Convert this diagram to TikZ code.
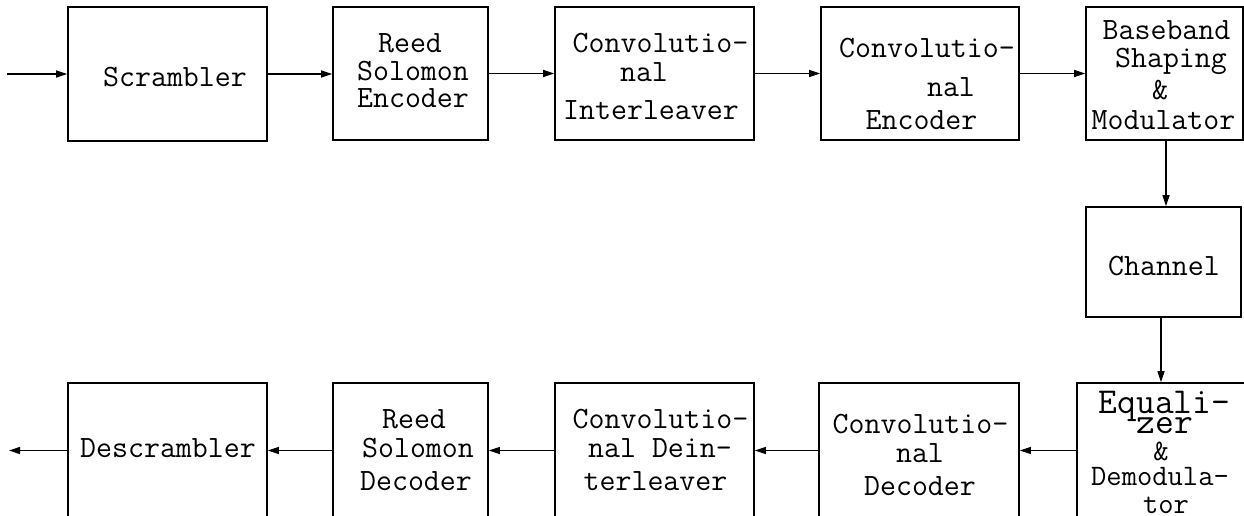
\documentclass[tikz,border=0pt]{standalone}
\usepackage{fontspec}
\usetikzlibrary{arrows.meta}
\begin{document}
\begin{tikzpicture}[x=1pt,y=-1pt,
  box/.style={draw, line width=1.6pt, rectangle, inner sep=0pt},
  txt/.style={font=\ttfamily\fontsize{31}{31}\selectfont, inner sep=0pt, anchor=base},
  bigtxt/.style={txt, font=\ttfamily\fontsize{36.5}{36.5}\selectfont},
  midtxt/.style={txt, font=\ttfamily\fontsize{29.7}{29.7}\selectfont},
  arr/.style={line width=1.3pt, -{Triangle[length=11pt,width=7pt]}}]
\useasboundingbox (0,0) rectangle (1244,516);
\clip (0,0) rectangle (1244,516);
% top row boxes
\node[box, minimum width=199, minimum height=134] (scr) at (167.5,74) {};
\node[box, minimum width=155, minimum height=133] (rse) at (410.5,73.5) {};
\node[box, minimum width=199, minimum height=133] (cil) at (654.5,73.5) {};
\node[box, minimum width=198, minimum height=133] (cen) at (920,73.5) {};
\node[box, minimum width=157, minimum height=133] (bbm) at (1164.5,73.5) {};
% channel
\node[box, minimum width=155, minimum height=110] (chn) at (1163.5,262) {};
% bottom row boxes
\node[box, minimum width=175, minimum height=135] (eqd) at (1164.5,450.5) {};
\node[box, minimum width=200, minimum height=135] (cdc) at (919,450.5) {};
\node[box, minimum width=199, minimum height=135] (cdi) at (654.5,450.5) {};
\node[box, minimum width=155, minimum height=135] (rsd) at (410.5,450.5) {};
\node[box, minimum width=199, minimum height=135] (dsc) at (167.5,450.5) {};
% texts
\node[txt] (scrT) at (175,87) {Scrambler};
\node[txt] (rseT1) at (410,53) {Reed};
\node[txt] (rseT2) at (413,81) {Solomon};
\node[txt] (rseT3) at (413,108) {Encoder};
\node[txt] (cilT1) at (660.5,53) {Convolutio-};
\node[txt] (cilT2) at (644,82) {nal};
\node[txt] (cilT3) at (651,120) {Interleaver};
\node[txt] (cenT1) at (927,58) {Convolutio-};
\node[txt] (cenT2) at (951,97) {nal};
\node[txt] (cenT3) at (921.5,130) {Encoder};
\node[txt] (bbmT1) at (1166.5,40) {Baseband};
\node[txt] (bbmT2) at (1171,68) {Shaping};
\node[txt] (bbmT3) at (1160,100) {\&};
\node[txt] (bbmT4) at (1163.5,130) {Modulator};
\node[txt] (chnT) at (1164,275) {Channel};
\node[bigtxt] (eqdT1) at (1164.5,413) {Equali-};
\node[bigtxt] (eqdT2) at (1165,433) {zer};
\node[midtxt] (eqdT3) at (1161,460) {\&};
\node[midtxt] (eqdT4) at (1160,485) {Demodula-};
\node[midtxt] (eqdT5) at (1166,513) {tor};
\node[txt] (cdcT1) at (920.5,433) {Convolutio-};
\node[txt] (cdcT2) at (920,462) {nal};
\node[txt] (cdcT3) at (920,495) {Decoder};
\node[txt] (cdiT1) at (660.5,428) {Convolutio-};
\node[txt] (cdiT2) at (660,457) {nal Dein-};
\node[txt] (cdiT3) at (655.5,490) {terleaver};
\node[txt] (rsdT1) at (414,428) {Reed};
\node[txt] (rsdT2) at (418,457) {Solomon};
\node[txt] (rsdT3) at (416,490) {Decoder};
\node[txt] (dscT) at (168,457) {Descrambler};
% connectors
\coordinate (in) at (7,74);
\coordinate (out) at (9,450.5);
\draw[arr] (in) -- (scr.west);
\draw[arr] (scr.east) -- (scr.east -| rse.west);
\draw[arr] (rse.east) -- (rse.east -| cil.west);
\draw[arr] (cil.east) -- (cil.east -| cen.west);
\draw[arr] (cen.east) -- (cen.east -| bbm.west);
\draw[arr] ([xshift=1.5pt]bbm.south) -- ([xshift=1.5pt]bbm.south |- chn.north);
\draw[arr] ([xshift=-2.5pt]chn.south) -- ([xshift=-2.5pt]chn.south |- eqd.north);
\draw[arr] (eqd.west) -- (eqd.west -| cdc.east);
\draw[arr] (cdc.west) -- (cdc.west -| cdi.east);
\draw[arr] (cdi.west) -- (cdi.west -| rsd.east);
\draw[arr] (rsd.west) -- (rsd.west -| dsc.east);
\draw[arr] (dsc.west) -- (out);
\end{tikzpicture}
\end{document}
